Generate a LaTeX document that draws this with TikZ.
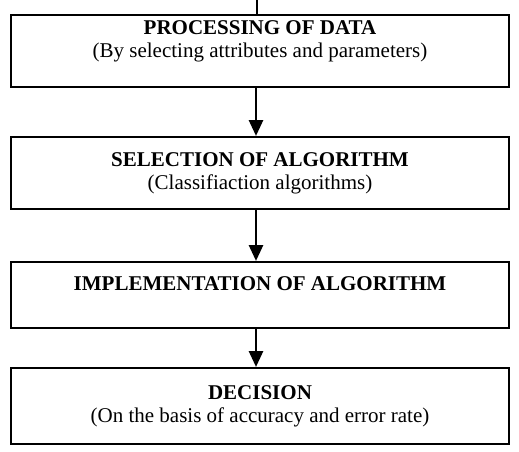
\documentclass[tikz,border=0pt]{standalone}
\usepackage{fontspec}
\setmainfont{Liberation Serif}
\usetikzlibrary{arrows.meta}
\begin{document}
\begin{tikzpicture}[x=1pt, y=1pt,
    stage/.style={draw, line width=1.8pt, minimum width=498pt, inner ysep=0pt,
      align=center, anchor=north, font=\fontsize{21}{23.5}\selectfont},
    flow/.style={line width=2.8pt, -{Triangle[length=16pt,width=14pt]}}]
  \useasboundingbox (0,0) rectangle (519,451);
  % Stages
  \node[stage, text height=43pt, text depth=29pt] (proc) at (260,437)
    {\textbf{PROCESSING OF DATA}\\(By selecting attributes and parameters)};
  \node[stage, text height=53pt, text depth=19pt] (sel) at (260,315)
    {\textbf{SELECTION OF ALGORITHM}\\(Classifiaction algorithms)};
  \node[stage, text height=29pt, text depth=37pt] (impl) at (260,190)
    {\textbf{IMPLEMENTATION OF ALGORITHM}};
  \node[stage, text height=55pt, text depth=21pt] (dec) at (260,84)
    {\textbf{DECISION}\\(On the basis of accuracy and error rate)};
  % Incoming line
  \coordinate (in) at (257,451);
  \draw[line width=2pt] (in) -- (in |- proc.north);
  % Arrows
  \draw[flow] ([xshift=-4pt]proc.south) -- ([xshift=-4pt]sel.north);
  \draw[flow] ([xshift=-4pt]sel.south) -- ([xshift=-4pt]impl.north);
  \draw[flow] ([xshift=-4pt]impl.south) -- ([xshift=-4pt]dec.north);
\end{tikzpicture}
\end{document}
